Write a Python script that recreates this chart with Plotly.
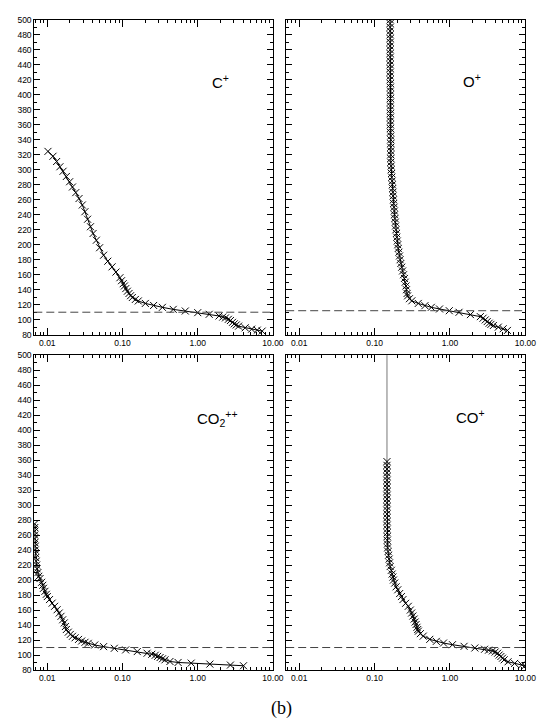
import plotly.graph_objects as go

# ---------------- data ----------------
cplus_alt = [324.5, 318, 311, 304, 298, 291, 284, 277, 269.5, 261.6, 253, 244, 234, 224, 215, 206,
             196, 186, 178, 170.5, 163.5, 156, 152, 148, 145, 141.5, 138, 135, 132, 129.6, 127, 125,
             121.7, 119, 116.5, 113.8, 111.6, 109.4, 107.2, 105, 103.5, 102.4, 100.5, 98.9, 96.5,
             94.5, 93, 91.4, 89.2, 87.4, 86.1, 84.8]
cplus_val = [0.0102, 0.0119, 0.0133, 0.0147, 0.0162, 0.0179, 0.0198, 0.0216, 0.0239, 0.0264, 0.0292,
             0.0316, 0.0343, 0.0375, 0.0406, 0.0449, 0.0496, 0.056, 0.0637, 0.0726, 0.0818, 0.0923,
             0.097, 0.102, 0.106, 0.1105, 0.116, 0.122, 0.128, 0.135, 0.148, 0.162, 0.201, 0.259,
             0.339, 0.472, 0.683, 1.0, 1.42, 1.92, 2.15, 2.34, 2.55, 2.72, 2.9, 3.06, 3.25, 3.49,
             4.27, 5.21, 6.18, 7.18]

oplus_alt = [500, 495, 490, 485, 480, 475, 470, 465, 460, 455, 450, 445, 440, 435, 430, 425, 420,
             415, 410, 405, 400, 395, 390, 385, 380, 375, 370, 365, 360, 355, 350,
             345, 340, 335, 330, 325, 320, 315, 310, 305, 300, 295, 290,
             285, 280, 275, 270, 265, 260, 255, 250, 245, 240, 235, 230, 225, 220, 215, 210, 205,
             200, 195, 190, 185, 180, 175, 170, 165, 160, 155, 150, 145, 140, 135, 131.8, 128,
             125.2, 121.7, 118.7, 116.5, 114.3, 112, 109.9, 106.8, 104.1, 102, 99.7, 97.5, 95.3,
             93.8, 92.3, 90.1, 87.9, 85.7]
oplus_val = [0.161, 0.161, 0.161, 0.161, 0.161, 0.161, 0.161, 0.161, 0.161, 0.161, 0.161, 0.161,
             0.161, 0.161, 0.161, 0.161, 0.161,
             0.162, 0.162, 0.162, 0.162, 0.162, 0.162, 0.162, 0.162, 0.162, 0.162, 0.162, 0.162,
             0.162, 0.162,
             0.164, 0.164, 0.164, 0.164, 0.164, 0.164, 0.164, 0.164, 0.166, 0.166, 0.168, 0.169,
             0.171, 0.172, 0.174, 0.175, 0.176, 0.178, 0.179, 0.181, 0.183, 0.184, 0.186, 0.188,
             0.190, 0.192, 0.195, 0.197, 0.200, 0.203, 0.206, 0.210, 0.214, 0.218, 0.223, 0.229,
             0.235, 0.242, 0.249, 0.255, 0.261, 0.265, 0.270, 0.274, 0.29,
             0.312, 0.380, 0.465, 0.566, 0.727, 0.98, 1.32, 1.87, 2.53, 2.75, 2.94, 3.12, 3.31,
             3.5, 3.77, 4.38, 5.08, 5.79]

co2pp_alt = [275, 270, 265, 260, 255, 250, 245, 240, 235, 230, 225, 220, 215, 210, 205, 202, 197,
             193, 189, 185, 181, 178, 174, 169.2, 165, 160.4, 156, 151.6, 147, 142.8, 138, 134,
             130.5, 127.5, 125, 123, 120.8, 118.7, 117, 115.6, 113.4, 111.2, 109, 106.8, 104.6,
             102.4, 101, 99.7, 98.2, 96.7, 95, 93.6, 91.4, 90.1, 89.2, 87.9, 86.6, 85.7]
co2pp_val = [0.0068, 0.0068, 0.0068, 0.0068, 0.0068, 0.0068, 0.0069, 0.0069, 0.0070, 0.0070,
             0.0071, 0.0072, 0.0073, 0.0075, 0.0077, 0.0080, 0.0084, 0.0087, 0.0089, 0.0093,
             0.0097, 0.0100, 0.0107, 0.0116, 0.0125, 0.0135, 0.0144, 0.0152, 0.0160, 0.0168,
             0.0174, 0.0179, 0.0190, 0.0202, 0.0216, 0.0234, 0.026, 0.0286, 0.0317, 0.035,
             0.0427, 0.056, 0.0778, 0.110, 0.157, 0.212, 0.245, 0.272, 0.293, 0.316, 0.34, 0.367,
             0.427, 0.548, 0.818, 1.45, 2.72, 4.06]

coplus_top_alt = [500, 358]
coplus_top_val = [0.146, 0.146]
coplus_alt = [358, 353, 348, 343, 338, 333, 328, 323, 318, 313, 308, 303, 298, 293, 288, 283, 278,
              273, 268, 263, 258, 253, 248, 243, 238, 233, 228, 223, 218, 213, 208, 204, 200, 196,
              191, 187, 182, 178, 174, 169, 165, 160, 156, 152, 148, 144, 140.7, 137, 134, 131.8,
              128.5, 125.2, 120.9, 118.2, 116, 113.8, 111.6, 109.4, 107.7, 106.5, 105.5, 104,
              102.4, 100, 98, 95.8, 93.6, 91, 88.8, 87, 85.7]
coplus_val = [0.146, 0.146, 0.146, 0.146, 0.146, 0.146, 0.146, 0.146, 0.146, 0.146, 0.146, 0.146,
              0.146, 0.146, 0.146, 0.146, 0.146, 0.146, 0.147, 0.147, 0.147, 0.147, 0.148, 0.149,
              0.151, 0.153, 0.156, 0.158, 0.161, 0.167, 0.171, 0.175, 0.178, 0.185, 0.193, 0.203,
              0.215, 0.227, 0.238, 0.258, 0.280, 0.298, 0.310, 0.322, 0.335, 0.345, 0.355, 0.365,
              0.373, 0.381, 0.405, 0.442, 0.540, 0.659, 0.821, 1.08, 1.54, 2.14, 2.88, 3.25, 3.66,
              3.98, 4.29, 4.5, 4.74, 4.98, 5.24, 5.90, 7.21, 8.98, 9.9]

ion_labels = ["C<sup>+</sup>", "O<sup>+</sup>", "CO<sub>2</sub><sup>++</sup>", "CO<sup>+</sup>"]
ref_alt = [110, 112, 110, 110]

xtick_vals = [0.01, 0.1, 1, 10]
xtick_text = ["0.01", "0.10", "1.00", "10.00"]
xminor_vals = [0.007, 0.008, 0.009,
               0.02, 0.03, 0.04, 0.05, 0.06, 0.07, 0.08, 0.09,
               0.2, 0.3, 0.4, 0.5, 0.6, 0.7, 0.8, 0.9,
               2, 3, 4, 5, 6, 7, 8, 9]
ytick_vals = list(range(80, 501, 20))

# ---------------- figure ----------------
W, H = 552, 727
fig = go.Figure()

series = [(cplus_val, cplus_alt), (oplus_val, oplus_alt), (co2pp_val, co2pp_alt), (coplus_val, coplus_alt)]
for i, (xv, yv) in enumerate(series):
    sfx = "" if i == 0 else str(i + 1)
    if i == 3:
        fig.add_trace(go.Scatter(x=coplus_top_val, y=coplus_top_alt, mode="lines",
                                 line=dict(color="#777777", width=1),
                                 xaxis="x" + sfx, yaxis="y" + sfx, showlegend=False))
    fig.add_trace(go.Scatter(x=xv, y=yv, mode="lines+markers",
                             line=dict(color="black", width=1),
                             marker=dict(symbol="x-thin", size=7,
                                         line=dict(color="black", width=1)),
                             xaxis="x" + sfx, yaxis="y" + sfx, showlegend=False))

xdoms = [[35 / W, 278.5 / W], [292 / W, 536 / W]]
ydoms = [[1 - 334.3 / H, 1 - 15 / H], [1 - 674.3 / H, 1 - 355 / H]]

tickfont = dict(family="Liberation Sans, Arial, sans-serif", size=8.5, color="black")
layout = dict(width=W, height=H, margin=dict(l=0, r=0, t=0, b=0),
              paper_bgcolor="white", plot_bgcolor="white", showlegend=False)

shapes = []
for i in range(4):
    sfx = "" if i == 0 else str(i + 1)
    col, row = i % 2, i // 2
    layout["xaxis" + sfx] = dict(
        type="log", domain=xdoms[col], range=[-2.173, 1.0], anchor="y" + sfx,
        tickmode="array", tickvals=xtick_vals, ticktext=xtick_text,
        ticks="inside", ticklen=7, tickwidth=1, tickcolor="black",
        minor=dict(tickmode="array", tickvals=xminor_vals, ticks="inside", ticklen=3,
                   tickwidth=1, tickcolor="black", showgrid=False),
        showline=True, linecolor="black", linewidth=1, mirror="allticks",
        showgrid=False, zeroline=False, tickfont=tickfont)
    layout["yaxis" + sfx] = dict(
        domain=ydoms[row], range=[80, 500], anchor="x" + sfx,
        tickmode="array", tickvals=ytick_vals,
        ticks="inside", ticklen=6, tickwidth=1, tickcolor="black",
        minor=dict(dtick=10, tick0=80, ticks="inside", ticklen=3, tickwidth=1,
                   tickcolor="black", showgrid=False),
        showline=True, linecolor="black", linewidth=1, mirror="allticks",
        showgrid=False, zeroline=False, tickfont=tickfont,
        showticklabels=(col == 0))
    shapes.append(dict(type="line", xref="x" + sfx + " domain", x0=0, x1=1,
                       yref="y" + sfx, y0=ref_alt[i], y1=ref_alt[i],
                       line=dict(color="#444444", width=1, dash="8px,4px")))
layout["shapes"] = shapes

label_pos = [(225, 78), (482, 77), (222, 419), (480.5, 417.5)]
annotations = []
for txt, (px, py) in zip(ion_labels, label_pos):
    annotations.append(dict(text=txt, x=px / W, y=1 - py / H, xref="paper", yref="paper",
                            showarrow=False, xanchor="center", yanchor="middle",
                            font=dict(family="Liberation Sans, Arial, sans-serif", size=15,
                                      color="black")))
annotations.append(dict(text="(b)", x=287.5 / W, y=1 - 713 / H, xref="paper", yref="paper",
                        showarrow=False, xanchor="center", yanchor="middle",
                        font=dict(family="Liberation Serif, serif", size=18, color="black")))
layout["annotations"] = annotations

fig.update_layout(**layout)
fig.write_html("out.html")
